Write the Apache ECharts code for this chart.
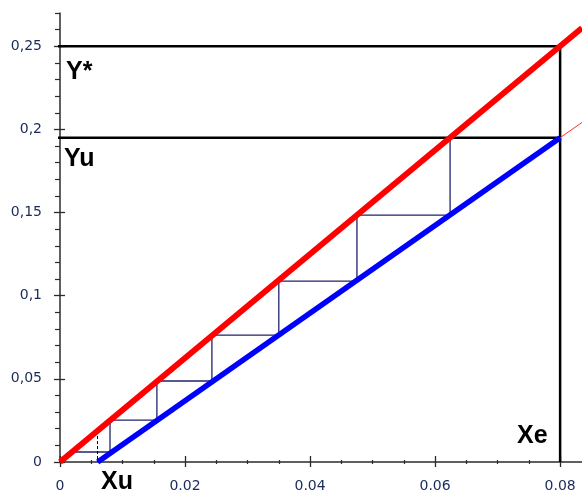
<!DOCTYPE html>
<html>
<head>
<meta charset="utf-8">
<script src="https://cdn.jsdelivr.net/npm/echarts@6/dist/echarts.min.js"></script>
<style>
html,body{margin:0;padding:0;background:#fff;}
#chart{width:582px;height:493px;}
</style>
</head>
<body>
<div id="chart"></div>
<script>
// ---- data ----
const xMajorTicks = [0, 0.02, 0.04, 0.06, 0.08];
const xMinorTicks = [0.005, 0.01, 0.015, 0.025, 0.03, 0.035, 0.045, 0.05, 0.055, 0.065, 0.07, 0.075];
const yMajorTicks = [0, 0.05, 0.1, 0.15, 0.2, 0.25];
const yMinorTicks = [0.01, 0.02, 0.03, 0.04, 0.06, 0.07, 0.08, 0.09, 0.11, 0.12, 0.13, 0.14,
                     0.16, 0.17, 0.18, 0.19, 0.21, 0.22, 0.23, 0.24, 0.26, 0.27];
const xMax = 0.0835;
const yMax = 0.27;

const Ystar = 0.25;
const Yu = 0.195;
const Xe = 0.08;
const Xu = 0.006;
const guideLeftX = -0.0019;

// equilibrium line (red) and operating line (blue)
const equilibriumLine = [[0, 0], [0.0835, 0.261]];
const operatingLine = [[0.00603, 0], [0.08, 0.195]];
const operatingExtension = [[0.08, 0.195], [0.0835, 0.2042]];

// staircase corners
const stairX = [0.0624, 0.0624, 0.0475, 0.0475, 0.0350, 0.0350, 0.0243, 0.0243, 0.0155, 0.0155, 0.0080, 0.0080, 0.0021];
const stairY = [0.195, 0.1484, 0.1484, 0.1088, 0.1088, 0.0763, 0.0763, 0.0487, 0.0487, 0.0252, 0.0252, 0.0060, 0.0060];
const xuDashTop = 0.0156;

// ---- build ----
const stairs = stairX.map((x, i) => [x, stairY[i]]);
const yStarLine = [[guideLeftX, Ystar], [Xe, Ystar]];
const yuLine = [[guideLeftX, Yu], [Xe, Yu]];
const xeLine = [[Xe, Ystar], [Xe, 0]];
const xuDash = [[Xu, xuDashTop], [Xu, 0]];

const axisColor = '#2b2b2b';
const labelColor = '#1b2a5c';
const labelFont = {fontFamily: 'DejaVu Sans', fontSize: 14, color: labelColor};

const chart = echarts.init(document.getElementById('chart'), null, {renderer: 'canvas'});

function lineSeries(data, color, width, z, type) {
  return {
    type: 'line', data: data, symbol: 'none', z: z, clip: false, animation: false,
    xAxisIndex: 0, yAxisIndex: 0,
    lineStyle: {color: color, width: width, type: type || 'solid', cap: 'butt'}
  };
}

const baseX = {type: 'value', min: 0, max: xMax, position: 'bottom', offset: 0,
  splitLine: {show: false}};
const baseY = {type: 'value', min: 0, max: yMax, position: 'left', offset: 0,
  splitLine: {show: false}};

chart.setOption({
  animation: false,
  backgroundColor: '#ffffff',
  grid: {left: 60, right: 0, top: 13, bottom: 31, containLabel: false},
  xAxis: [
    Object.assign({}, baseX, {
      axisLine: {show: true, onZero: false, lineStyle: {color: axisColor, width: 1.5}},
      axisTick: {show: true, customValues: xMajorTicks, length: 5, lineStyle: {color: axisColor, width: 1.3}},
      axisLabel: Object.assign({show: true, customValues: xMajorTicks, margin: 17,
        formatter: v => v === 0 ? '0' : v.toFixed(2)}, labelFont)
    }),
    Object.assign({}, baseX, {
      axisLine: {show: false, onZero: false},
      axisTick: {show: true, inside: true, customValues: xMajorTicks, length: 6, lineStyle: {color: axisColor, width: 1.3}},
      axisLabel: {show: false}
    }),
    Object.assign({}, baseX, {
      axisLine: {show: false, onZero: false},
      axisTick: {show: true, customValues: xMinorTicks, length: 2, lineStyle: {color: axisColor, width: 1.2}},
      axisLabel: {show: false}
    }),
    Object.assign({}, baseX, {
      axisLine: {show: false, onZero: false},
      axisTick: {show: true, inside: true, customValues: xMinorTicks, length: 2, lineStyle: {color: axisColor, width: 1.2}},
      axisLabel: {show: false}
    })
  ],
  yAxis: [
    Object.assign({}, baseY, {
      axisLine: {show: true, onZero: false, lineStyle: {color: axisColor, width: 1.5}},
      axisTick: {show: true, customValues: yMajorTicks, length: 6, lineStyle: {color: axisColor, width: 1.3}},
      axisLabel: Object.assign({show: true, customValues: yMajorTicks, margin: 18,
        formatter: v => v === 0 ? '0' : String(v).replace('.', ',')}, labelFont)
    }),
    Object.assign({}, baseY, {
      axisLine: {show: false, onZero: false},
      axisTick: {show: true, inside: true, customValues: yMajorTicks, length: 5, lineStyle: {color: axisColor, width: 1.3}},
      axisLabel: {show: false}
    }),
    Object.assign({}, baseY, {
      axisLine: {show: false, onZero: false},
      axisTick: {show: true, customValues: yMinorTicks, length: 5, lineStyle: {color: axisColor, width: 1.2}},
      axisLabel: {show: false}
    })
  ],
  series: [
    lineSeries(yStarLine, '#000000', 2.5, 2),
    lineSeries(yuLine, '#000000', 2.5, 2),
    lineSeries(xeLine, '#000000', 2.5, 2),
    lineSeries(stairs, '#23236e', 1.3, 3),
    lineSeries(xuDash, '#000000', 1, 3, [3, 2]),
    lineSeries(operatingExtension, '#ff3030', 1, 4),
    lineSeries(operatingLine, '#0000ff', 5.5, 5),
    lineSeries(equilibriumLine, '#ff0000', 6, 6)
  ],
  graphic: [
    {type: 'text', x: 66, y: 72, z: 10, style: {text: 'Y*', font: 'bold 25px "Liberation Sans", Arial, sans-serif', fill: '#000', verticalAlign: 'middle'}},
    {type: 'text', x: 64, y: 159, z: 10, style: {text: 'Yu', font: 'bold 25px "Liberation Sans", Arial, sans-serif', fill: '#000', verticalAlign: 'middle'}},
    {type: 'text', x: 517, y: 436, z: 10, style: {text: 'Xe', font: 'bold 25px "Liberation Sans", Arial, sans-serif', fill: '#000', verticalAlign: 'middle'}},
    {type: 'text', x: 101, y: 482, z: 10, style: {text: 'Xu', font: 'bold 25px "Liberation Sans", Arial, sans-serif', fill: '#000', verticalAlign: 'middle'}}
  ]
});
</script>
</body>
</html>
